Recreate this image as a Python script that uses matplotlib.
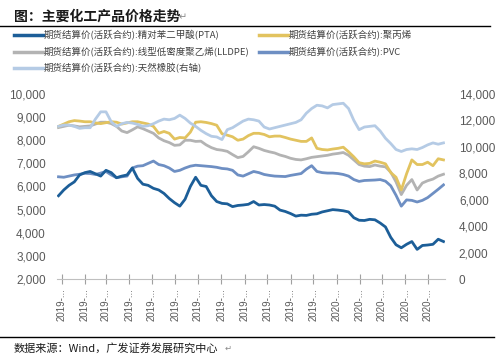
import matplotlib
matplotlib.use("Agg")
import matplotlib.pyplot as plt
import pandas as pd
from matplotlib.lines import Line2D

# ---------------- data (weekly samples) ----------------
dates = pd.date_range("2018-12-28", periods=74, freq="7D")

pta = [5600, 5850, 6050, 6200, 6500, 6600, 6650, 6550, 6450, 6700,
       6600, 6380, 6450, 6500, 6800, 6350, 6100, 6050, 5920, 5850,
       5700, 5480, 5300, 5150, 5450, 6000, 6400, 6050, 6000, 5600,
       5350, 5270, 5250, 5130, 5180, 5200, 5230, 5350, 5200, 5220,
       5200, 5150, 4980, 4920, 4830, 4720, 4760, 4750, 4800, 4820,
       4900, 4950, 5000, 4980, 4950, 4900, 4650, 4540, 4530, 4580,
       4560, 4420, 4250, 3800, 3480, 3350, 3500, 3620, 3280, 3450,
       3470, 3500, 3720, 3620]

pp = [8600, 8700, 8800, 8850, 8830, 8800, 8800, 8750, 8720, 8760,
      8800, 8780, 8700, 8750, 8800, 8800, 8750, 8700, 8600, 8300,
      8380, 8300, 8050, 8120, 8100, 8350, 8780, 8800, 8770, 8720,
      8650, 8280, 8220, 8150, 8000, 8050, 8200, 8300, 8300, 8250,
      8150, 8180, 8180, 8120, 8050, 8000, 7950, 7950, 8100, 7650,
      7600, 7580, 7620, 7650, 7700, 7500, 7280, 7030, 6980, 7000,
      7100, 7050, 6980, 6600, 6400, 5850, 6550, 7150, 6950, 6950,
      7050, 6900, 7200, 7150]

lldpe = [8550, 8600, 8650, 8620, 8580, 8600, 8620, 8700, 8780, 8780,
         8720, 8600, 8400, 8330, 8450, 8580, 8500, 8400, 8300, 8100,
         7980, 7900, 7780, 7800, 8000, 8000, 7950, 7960, 7800, 7680,
         7600, 7570, 7520, 7380, 7250, 7300, 7500, 7720, 7650, 7560,
         7500, 7450, 7360, 7300, 7220, 7170, 7150, 7200, 7260, 7290,
         7320, 7350, 7400, 7430, 7470, 7350, 7150, 6950, 6880, 6860,
         6930, 6880, 6850, 6620, 6200, 5650, 6050, 6300, 5850, 6150,
         6250, 6320, 6450, 6530]

pvc = [6420, 6400, 6450, 6500, 6530, 6570, 6560, 6520, 6580, 6650,
       6500, 6380, 6420, 6450, 6800, 6880, 6900, 7000, 7100, 6950,
       6900, 6800, 6650, 6700, 6800, 6880, 6920, 6900, 6880, 6860,
       6830, 6780, 6760, 6700, 6500, 6450, 6550, 6650, 6600, 6520,
       6480, 6450, 6440, 6430, 6480, 6520, 6560, 6750, 6900, 6650,
       6600, 6580, 6580, 6560, 6520, 6450, 6300, 6220, 6260, 6270,
       6280, 6300, 6230, 6030, 5620, 5150, 5420, 5400, 5330, 5400,
       5520, 5700, 5880, 6070]

rubber = [11550, 11650, 11650, 11550, 11400, 11450, 11450, 12100, 12650, 12650,
          11900, 11550, 11750, 11850, 11800, 11700, 11550, 11600, 11750, 11950,
          12100, 12050, 12150, 12400, 12150, 11800, 11550, 11250, 11000, 10800,
          10750, 10550, 11300, 11450, 11700, 11950, 12100, 12050, 11950, 11500,
          11350, 11450, 11550, 11650, 11750, 11850, 12050, 12550, 12900, 13150,
          13100, 12950, 13200, 13250, 13300, 12900, 12000, 11300, 11500, 11550,
          11600, 11200, 10650, 10250, 9800, 9650, 9800, 9850, 9800, 9950,
          10150, 10300, 10200, 10300]

tick_dates = pd.date_range("2019-01-01", "2020-05-01", freq="MS")
tick_labels = ["2019-..."] * 12 + ["2020-..."] * 5

left_ticks = [2000, 3000, 4000, 5000, 6000, 7000, 8000, 9000, 10000]
right_ticks = [0, 2000, 4000, 6000, 8000, 10000, 12000, 14000]

names = ["期货结算价(活跃合约):精对苯二甲酸(PTA)",
         "期货结算价(活跃合约):聚丙烯",
         "期货结算价(活跃合约):线型低密度聚乙烯(LLDPE)",
         "期货结算价(活跃合约):PVC",
         "期货结算价(活跃合约):天然橡胶(右轴)"]

c_pta, c_pp, c_ll, c_pvc, c_rub = "#1c5e98", "#e2c35f", "#b3b3b3", "#6e8fc3", "#b5cbe5"

plt.rcParams['font.family'] = ['Liberation Sans', 'Noto Sans CJK SC', 'DejaVu Sans']
CJK = ['Noto Sans CJK SC', 'DejaVu Sans']

fig = plt.figure(figsize=(4.97, 3.61), dpi=100)
W, H = 497, 361

ax = fig.add_axes([57 / W, 1 - 279 / H, 388 / W, 185 / H])
ax2 = ax.twinx()

lw = 2.0
ax.plot(dates, lldpe, color=c_ll, lw=lw, zorder=2)
ax.plot(dates, pvc, color=c_pvc, lw=lw, zorder=3)
ax.plot(dates, pp, color=c_pp, lw=lw, zorder=4)
ax.plot(dates, pta, color=c_pta, lw=lw, zorder=5)
ax2.plot(dates, rubber, color=c_rub, lw=lw)

ax.set_ylim(2000, 10000)
ax2.set_ylim(0, 14000)
ax.set_xlim(pd.Timestamp("2018-12-26"), pd.Timestamp("2020-05-24"))

ax.set_yticks(left_ticks)
ax.set_yticklabels([f"{v:,}" for v in left_ticks])
ax2.set_yticks(right_ticks)
ax2.set_yticklabels([f"{v:,}" for v in right_ticks])

ax.set_xticks(tick_dates)
ax.set_xticklabels(tick_labels, rotation=90, fontsize=7, color="#595959")

for a in (ax, ax2):
    for s in ("top", "left", "right"):
        a.spines[s].set_visible(False)
    a.spines["bottom"].set_color("#bfbfbf")
ax2.spines["bottom"].set_visible(False)

ax.tick_params(axis="y", length=0, pad=8, labelsize=8.5, labelcolor="#595959")
ax2.tick_params(axis="y", length=0, pad=10, labelsize=8.5, labelcolor="#595959")
ax.tick_params(axis="x", direction="inout", length=7, width=0.8, color="#a0a0a0", pad=3)

# title and rules
fig.text(14 / W, 1 - 17 / H, "图：主要化工产品价格走势", fontsize=10, fontweight="bold",
         family=CJK, color="#1a1a1a", va="center", ha="left")
fig.text(179 / W, 1 - 17 / H, "↵", fontsize=7, family=['DejaVu Sans'], color="#888888",
         va="center", ha="left")
fig.add_artist(Line2D([0, 490 / W], [1 - 25.5 / H, 1 - 25.5 / H], color="black", lw=1.0))
fig.add_artist(Line2D([0, 494 / W], [1 - 337 / H, 1 - 337 / H], color="black", lw=1.0))
fig.text(14 / W, 1 - 348 / H, "数据来源：Wind，广发证券发展研究中心", fontsize=8,
         family=CJK, color="#1a1a1a", va="center", ha="left")
fig.text(225 / W, 1 - 348 / H, "↵", fontsize=6, family=['DejaVu Sans'], color="#888888",
         va="center", ha="left")

# legend (manual)
entries = [(14, 35, c_pta, names[0]), (259, 35, c_pp, names[1]),
           (14, 52, c_ll, names[2]), (259, 52, c_pvc, names[3]),
           (14, 68, c_rub, names[4])]
for x0, y0, col, nm in entries:
    fig.add_artist(Line2D([x0 / W, (x0 + 29) / W], [1 - y0 / H, 1 - y0 / H], color=col, lw=2.5))
    fig.text((x0 + 30) / W, 1 - y0 / H, nm, fontsize=6.8, family=CJK, color="#404040",
             va="center", ha="left")

fig.savefig("out.png", dpi=100)
